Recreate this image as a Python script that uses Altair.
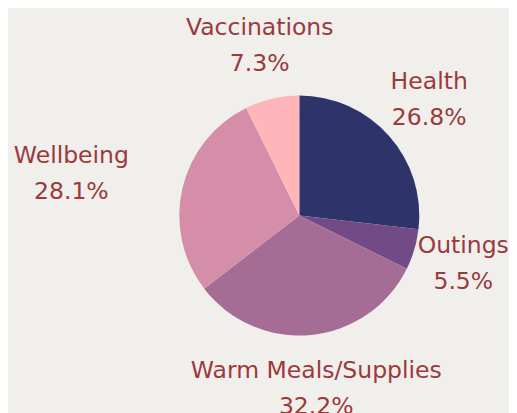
import altair as alt
import pandas as pd

categories = ["Health", "Outings", "Warm Meals/Supplies", "Wellbeing", "Vaccinations"]
shares = [26.8, 5.5, 32.2, 28.1, 7.3]
colors = ["#2e3369", "#724a86", "#a56c96", "#d48ea8", "#feb6bb"]

df = pd.DataFrame({"category": categories, "share": shares,
                   "idx": list(range(len(categories)))})

cx, cy = 291.3, 207.5
base = alt.Chart(df).encode(
    theta=alt.Theta("share:Q", stack=True),
    order=alt.Order("idx:Q"),
    x=alt.value(cx),
    y=alt.value(cy),
)

pie = base.mark_arc(radius=120).encode(
    color=alt.Color("category:N", scale=alt.Scale(domain=categories, range=colors), legend=None)
)

style = dict(font="DejaVu Sans", fontSize=23.5, color="#9b3a3d", lineBreak="\n",
             lineHeight=36, align="center", baseline="middle")


def label_layer(cond, r, dy):
    return base.transform_calculate(
        label=f"({cond}) ? datum.category + '\\n' + format(datum.share, '.1f') + '%' : ''"
    ).mark_text(radius=r, dy=dy, **style).encode(text="label:N")


labels_main = label_layer("datum.category != 'Wellbeing' && datum.category != 'Outings'", 174, -18)
labels_out = label_layer("datum.category == 'Outings'", 171, -18)
labels_well = label_layer("datum.category == 'Wellbeing'", 234, -7)

chart = alt.layer(pie, labels_main, labels_out, labels_well).properties(
    width=501, height=405,
    autosize=alt.AutoSizeParams(type="none"),
    padding=0,
    background="#f0efec",
).configure_view(stroke=None)

chart.save("out.html", embed_options={"renderer": "svg", "actions": False})
